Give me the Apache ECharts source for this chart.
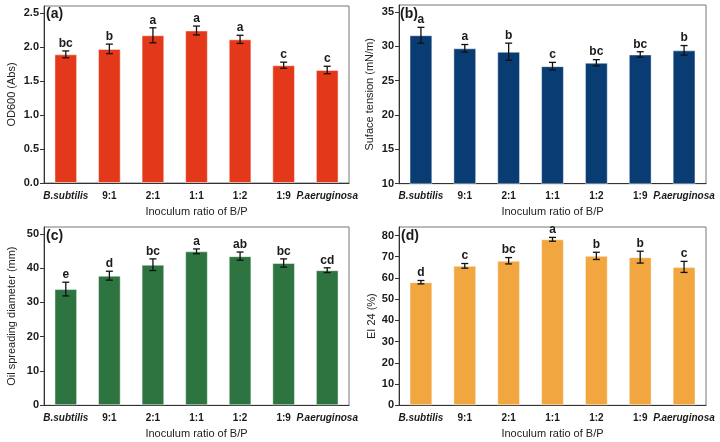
<!DOCTYPE html>
<html>
<head>
<meta charset="utf-8">
<script src="https://cdn.jsdelivr.net/npm/echarts@6/dist/echarts.min.js"></script>
<style>html,body{margin:0;padding:0;background:#fff}#c{width:720px;height:442px}</style>
</head>
<body>
<div id="c"></div>
<script>
const categories = ['B.subtilis', '9:1', '2:1', '1:1', '1:2', '1:9', 'P.aeruginosa'];

const odMean = [1.89, 1.97, 2.17, 2.24, 2.11, 1.73, 1.66];
const odErr = [0.05, 0.07, 0.11, 0.065, 0.06, 0.045, 0.055];
const odLetters = ['bc', 'b', 'a', 'a', 'a', 'c', 'c'];

const stMean = [31.6, 29.7, 29.2, 27.1, 27.6, 28.8, 29.4];
const stErr = [1.15, 0.55, 1.25, 0.55, 0.45, 0.4, 0.7];
const stLetters = ['a', 'a', 'b', 'c', 'bc', 'bc', 'b'];

const oilMean = [33.9, 37.8, 41.0, 44.9, 43.5, 41.5, 39.4];
const oilErr = [2.0, 1.3, 1.7, 0.7, 1.2, 1.2, 0.7];
const oilLetters = ['e', 'd', 'bc', 'a', 'ab', 'bc', 'cd'];

const eiMean = [58.0, 65.7, 68.1, 78.2, 70.4, 69.8, 65.2];
const eiErr = [0.8, 1.1, 1.5, 0.9, 1.7, 2.8, 2.6];
const eiLetters = ['d', 'c', 'bc', 'a', 'b', 'b', 'c'];

const yMins = [0, 10, 0, 0];
const yMaxs = [2.6, 36, 52, 84];
const yIntervals = [0.5, 5, 10, 10];
const yTitles = ['OD600 (Abs)', 'Suface tension (mN/m)', 'Oil spreading diameter (mm)', 'EI 24 (%)'];
const xTitle = 'Inoculum ratio of B/P';
const panelTags = ['(a)', '(b)', '(c)', '(d)'];
const colors = ['#E3391A', '#083C72', '#2E7440', '#F1A640'];

const means = [odMean, stMean, oilMean, eiMean];
const errs = [odErr, stErr, oilErr, eiErr];
const letters = [odLetters, stLetters, oilLetters, eiLetters];

const grids = [
  {left: 44, top: 6, width: 305, height: 177},
  {left: 399, top: 5, width: 307, height: 178.7},
  {left: 44, top: 227, width: 305, height: 178.3},
  {left: 399, top: 227, width: 307, height: 178.3}
];
const nameGaps = [27, 24, 27, 22];
const tagPos = [[46, 7], [400, 7], [46, 229], [401, 229]];

const FONT = 'Liberation Sans, Arial, sans-serif';

const option = {
  animation: false,
  backgroundColor: '#fff',
  textStyle: {fontFamily: FONT},
  title: panelTags.map((t, i) => ({
    text: t, left: tagPos[i][0], top: tagPos[i][1], padding: 0,
    textStyle: {fontSize: 14, fontWeight: 'bold', color: '#1a1a1a', fontFamily: FONT}
  })),
  grid: grids.map(g => Object.assign({show: true, borderColor: '#777', borderWidth: 1, backgroundColor: 'transparent'}, g)),
  xAxis: grids.map((g, i) => ({
    type: 'category', gridIndex: i, data: categories,
    name: xTitle, nameLocation: 'middle', nameGap: 23,
    nameTextStyle: {fontSize: 11, color: '#222', fontFamily: FONT},
    axisLine: {lineStyle: {color: '#333', width: 1}},
    axisTick: {alignWithLabel: true, length: 4, lineStyle: {color: '#333'}},
    axisLabel: {
      interval: 0, margin: 8, fontSize: 10, fontWeight: 'bold', color: '#1a1a1a', fontFamily: FONT,
      formatter: v => (v.indexOf('.') >= 0 ? '{it|' + v + '}' : v),
      rich: {it: {fontStyle: 'italic', fontWeight: 'bold', fontSize: 10, color: '#1a1a1a', fontFamily: FONT}}
    },
    splitLine: {show: false}
  })),
  yAxis: grids.map((g, i) => ({
    type: 'value', gridIndex: i, min: yMins[i], max: yMaxs[i], interval: yIntervals[i],
    name: yTitles[i], nameLocation: 'middle', nameGap: nameGaps[i],
    nameTextStyle: {fontSize: 11, color: '#222', fontFamily: FONT},
    axisLine: {show: true, lineStyle: {color: '#333', width: 1}},
    axisTick: {show: true, length: 4, lineStyle: {color: '#333'}},
    axisLabel: {
      showMaxLabel: false, margin: 5, fontSize: 11, fontWeight: 'bold', color: '#1a1a1a', fontFamily: FONT,
      formatter: v => (yIntervals[i] < 1 ? v.toFixed(1) : String(v))
    },
    splitLine: {show: false}
  })),
  series: []
};

for (let i = 0; i < 4; i++) {
  option.series.push({
    type: 'bar', xAxisIndex: i, yAxisIndex: i, data: means[i],
    barWidth: '52%',
    itemStyle: {color: colors[i], borderColor: 'rgba(255,255,255,0.45)', borderWidth: 1}
  });
  const m = means[i], e = errs[i], L = letters[i];
  option.series.push({
    type: 'custom', xAxisIndex: i, yAxisIndex: i,
    data: m.map((v, k) => [k, v, e[k]]),
    z: 10,
    renderItem: function (params, api) {
      const k = api.value(0), v = api.value(1), er = api.value(2);
      const top = api.coord([k, v + er]);
      const bot = api.coord([k, v - er]);
      const cw = 3.5;
      const st = {stroke: '#111', lineWidth: 1.3};
      return {
        type: 'group',
        children: [
          {type: 'line', shape: {x1: top[0], y1: top[1], x2: bot[0], y2: bot[1]}, style: st},
          {type: 'line', shape: {x1: top[0] - cw, y1: top[1], x2: top[0] + cw, y2: top[1]}, style: st},
          {type: 'line', shape: {x1: bot[0] - cw, y1: bot[1], x2: bot[0] + cw, y2: bot[1]}, style: st},
          {type: 'text', x: top[0], y: top[1] - 1.5,
           style: {text: L[params.dataIndex], fill: '#1a1a1a', font: 'bold 12px ' + FONT, align: 'center', verticalAlign: 'bottom'}}
        ]
      };
    }
  });
}

const chart = echarts.init(document.getElementById('c'), null, {renderer: 'canvas'});
chart.setOption(option);
</script>
</body>
</html>
